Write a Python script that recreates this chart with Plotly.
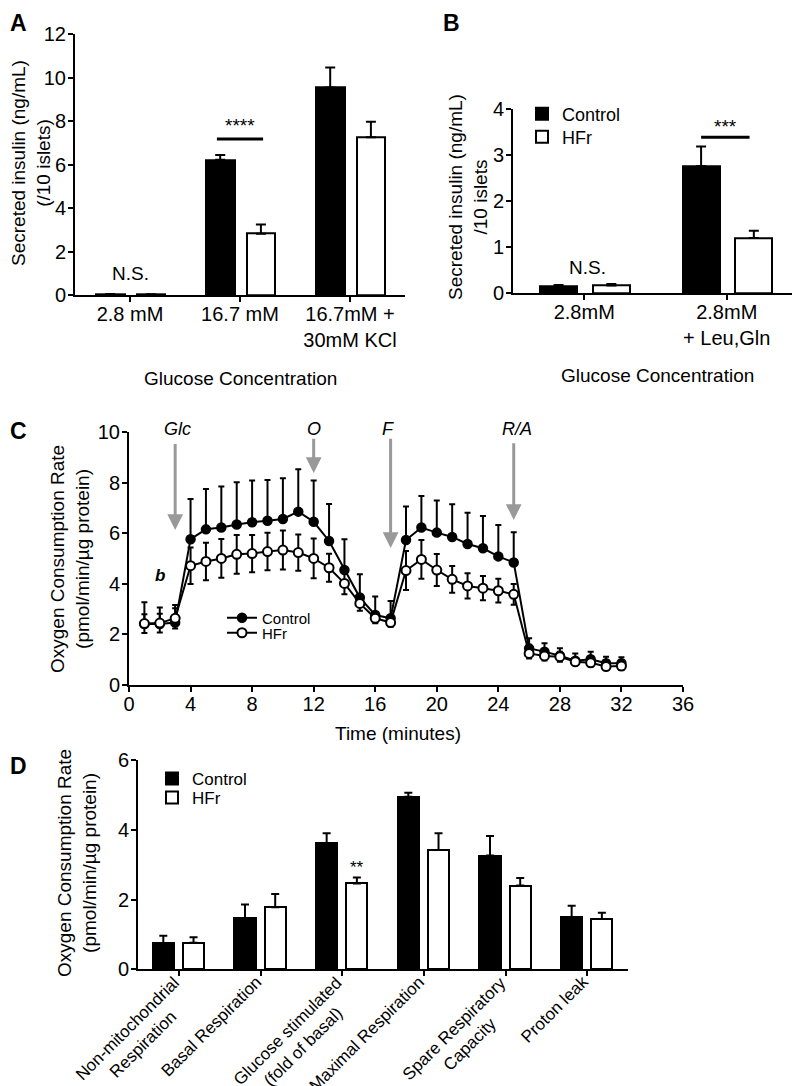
import plotly.graph_objects as go

FONT = "Liberation Sans, Arial, sans-serif"

# ---------------- Panel A ----------------
a_cats = ["2.8 mM", "16.7 mM", "16.7mM +<br>30mM KCl"]
a_ctrl = [0.05, 6.22, 9.55]
a_ctrl_err = [0.0, 0.22, 0.92]
a_hfr = [0.03, 2.82, 7.26]
a_hfr_err = [0.0, 0.43, 0.72]

# ---------------- Panel B ----------------
b_cats = ["2.8mM", "2.8mM<br>+ Leu,Gln"]
b_ctrl = [0.15, 2.77]
b_ctrl_err = [0.03, 0.42]
b_hfr = [0.17, 1.20]
b_hfr_err = [0.03, 0.16]

# ---------------- Panel C ----------------
c_time = list(range(1, 33))
c_ctrl = [2.41, 2.41, 2.47, 5.77, 6.16, 6.23, 6.35, 6.44, 6.50, 6.57, 6.86, 6.46,
          5.70, 4.55, 3.46, 2.77, 2.64, 5.74, 6.23, 6.03, 5.86, 5.58, 5.41, 5.09,
          4.85, 1.45, 1.32, 1.16, 0.96, 1.02, 0.86, 0.86]
c_ctrl_err = [0.86, 0.66, 0.70, 1.59, 1.60, 1.63, 1.67, 1.65, 1.61, 1.61, 1.68, 1.63,
              1.46, 1.22, 0.92, 0.73, 0.68, 1.32, 1.25, 1.27, 1.29, 1.24, 1.28, 1.24,
              1.19, 0.40, 0.33, 0.29, 0.29, 0.30, 0.26, 0.24]
c_hfr = [2.43, 2.45, 2.64, 4.72, 4.89, 5.01, 5.17, 5.20, 5.28, 5.34, 5.24, 5.01,
         4.64, 4.02, 3.23, 2.64, 2.47, 4.53, 4.97, 4.55, 4.18, 3.92, 3.83, 3.73,
         3.59, 1.25, 1.15, 1.12, 0.92, 0.88, 0.73, 0.75]
c_hfr_err = [0.37, 0.37, 0.40, 0.72, 0.74, 0.77, 0.77, 0.74, 0.74, 0.77, 0.72, 0.79,
             0.55, 0.43, 0.29, 0.20, 0.16, 0.77, 0.77, 0.63, 0.53, 0.50, 0.48, 0.47,
             0.41, 0.20, 0.18, 0.20, 0.13, 0.15, 0.14, 0.16]
c_inject_labels = ["Glc", "O", "F", "R/A"]
c_inject_times = [3, 12, 17, 25]
c_label_x = [3.12, 12.0, 16.8, 25.2]
c_arrow_tip = [6.13, 8.39, 5.42, 6.53]
c_arrow_top = [9.6, 9.8, 9.8, 9.63]

# ---------------- Panel D ----------------
d_cats = ["Non-mitochondrial<br>Respiration", "Basal Respiration",
          "Glucose stimulated<br>(fold of basal)", "Maximal Respiration",
          "Spare Respiratory<br>Capacity", "Proton leak"]
d_ctrl = [0.75, 1.46, 3.61, 4.95, 3.26, 1.50]
d_ctrl_err = [0.21, 0.40, 0.29, 0.11, 0.56, 0.32]
d_hfr = [0.76, 1.78, 2.46, 3.42, 2.40, 1.44]
d_hfr_err = [0.16, 0.38, 0.17, 0.48, 0.22, 0.18]

# page body has an 8px margin: figure is drawn 8px in from the top-left corner
OFF = 8
FW, FH = 800 - OFF, 1086 - OFF


def px_x(p):
    return (p - OFF) / FW


def px_y(p):
    return 1 - (p - OFF) / FH


fig = go.Figure()


def bar_pair(xa, ya, cats, ctrl, ctrl_err, hfr, hfr_err, width, off_c, off_h,
             legends=(None, None), show=False, cap=5):
    xs = list(range(len(cats)))
    fig.add_trace(go.Bar(
        x=xs, y=ctrl, name="Control", xaxis=xa, yaxis=ya, width=width, offset=off_c,
        marker=dict(color="black", line=dict(color="black", width=2)),
        error_y=dict(type="data", symmetric=False, array=ctrl_err,
                     arrayminus=[0] * len(ctrl), color="black", thickness=2, width=cap),
        showlegend=show, legend=legends[0]))
    fig.add_trace(go.Bar(
        x=xs, y=hfr, name="HFr", xaxis=xa, yaxis=ya, width=width, offset=off_h,
        marker=dict(color="white", line=dict(color="black", width=2)),
        error_y=dict(type="data", symmetric=False, array=hfr_err,
                     arrayminus=[0] * len(hfr), color="black", thickness=2, width=cap),
        showlegend=show, legend=legends[1]))


bar_pair("x", "y", a_cats, a_ctrl, a_ctrl_err, a_hfr, a_hfr_err, 0.26, -0.31, 0.06)
bar_pair("x2", "y2", b_cats, b_ctrl, b_ctrl_err, b_hfr, b_hfr_err, 0.26, -0.31, 0.06,
         legends=("legend", "legend2"), show=True)
bar_pair("x4", "y4", d_cats, d_ctrl, d_ctrl_err, d_hfr, d_hfr_err, 0.26, -0.32, 0.05,
         legends=("legend5", "legend6"), show=True, cap=4)

# Panel C lines
fig.add_trace(go.Scatter(
    x=c_time, y=c_ctrl, name="Control", xaxis="x3", yaxis="y3", mode="lines+markers",
    line=dict(color="black", width=2),
    marker=dict(symbol="circle", size=9, color="black", line=dict(color="black", width=1.5)),
    error_y=dict(type="data", symmetric=False, array=c_ctrl_err,
                 arrayminus=[0] * len(c_ctrl), color="black", thickness=2, width=3),
    legend="legend3"))
fig.add_trace(go.Scatter(
    x=c_time, y=c_hfr, name="HFr", xaxis="x3", yaxis="y3", mode="lines+markers",
    line=dict(color="black", width=2),
    marker=dict(symbol="circle", size=9, color="white", line=dict(color="black", width=2)),
    error_y=dict(type="data", array=c_hfr_err, color="black", thickness=2, width=3),
    legend="legend4"))

axis_common = dict(showline=True, linecolor="black", linewidth=2, ticks="outside",
                   ticklen=5, tickwidth=2, tickcolor="black", showgrid=False,
                   zeroline=False, automargin=False,
                   tickfont=dict(size=20, color="black", family=FONT))
xcommon = dict(axis_common, ticklabelstandoff=-5)
ycommon = dict(axis_common, ticklabelstandoff=-2)


def leg(x, y, size):
    return dict(x=px_x(x), y=px_y(y), xanchor="left", yanchor="middle",
                bgcolor="rgba(0,0,0,0)", font=dict(size=size, family=FONT, color="black"),
                tracegroupgap=0)


layout = dict(
    template="none",
    width=FW, height=FH, margin=dict(l=0, r=0, t=0, b=0, pad=0, autoexpand=False),
    paper_bgcolor="white", plot_bgcolor="white",
    font=dict(family=FONT, color="black", size=19),
    xaxis=dict(domain=[px_x(75), px_x(405)], range=[-0.5, 2.5], anchor="y",
               tickvals=list(range(len(a_cats))), ticktext=a_cats, **xcommon),
    yaxis=dict(domain=[px_y(295), px_y(34.3)], range=[0, 12], dtick=2, anchor="x",
               **ycommon),
    xaxis2=dict(domain=[px_x(513), px_x(798)], range=[-0.5, 1.5], anchor="y2",
                tickvals=list(range(len(b_cats))), ticktext=b_cats, **xcommon),
    yaxis2=dict(domain=[px_y(293.3), px_y(109.3)], range=[0, 4], dtick=1, anchor="x2",
                **ycommon),
    xaxis3=dict(domain=[px_x(129), px_x(683)], range=[0, 36], dtick=4, anchor="y3",
                **xcommon),
    yaxis3=dict(domain=[px_y(685), px_y(432.3)], range=[0, 10], dtick=2, anchor="x3",
                **ycommon),
    xaxis4=dict(domain=[px_x(138), px_x(628)], range=[-0.5, 5.5], anchor="y4",
                tickvals=list(range(len(d_cats))), showticklabels=False, **xcommon),
    yaxis4=dict(domain=[px_y(969.3), px_y(760)], range=[0, 6], dtick=2, anchor="x4",
                **ycommon),
    legend=leg(522, 114, 18),
    legend2=leg(522, 137, 18),
    legend3=leg(222, 618, 15),
    legend4=leg(222, 633, 15),
    legend5=leg(152, 779, 17),
    legend6=leg(152, 798, 17),
    bargap=0, barmode="overlay",
)
fig.update_layout(**layout)

ann = []
shapes = []


def paper_text(text, x, y, size=19, angle=0, bold=False, xanchor="center",
               yanchor="middle", ypaper=None):
    if bold:
        text = "<b>" + text + "</b>"
    ann.append(dict(text=text, x=max(px_x(x), 0), y=px_y(y) if ypaper is None else ypaper,
                    xref="paper", yref="paper", showarrow=False, textangle=angle,
                    xanchor=xanchor, yanchor=yanchor,
                    font=dict(size=size, family=FONT, color="black")))


# panel letters
paper_text("A", 0, 0, size=23, bold=True, xanchor="left", yanchor="top", ypaper=1)
paper_text("B", 451, 0, size=23, bold=True, yanchor="top", ypaper=1)
paper_text("C", 0, 431, size=23, bold=True, xanchor="left")
paper_text("D", 0, 766, size=23, bold=True, xanchor="left")

# axis titles
paper_text("Secreted insulin (ng/mL)<br>(/10 islets)", 31, 163, angle=-90)
paper_text("Glucose Concentration", 241, 378)
paper_text("Secreted insulin (ng/mL)<br>/10 islets", 468, 197, angle=-90)
paper_text("Glucose Concentration", 657, 375)
paper_text("Oxygen Consumption Rate<br>(pmol/min/µg protein)", 70, 559, angle=-90)
paper_text("Time (minutes)", 398, 733)
paper_text("Oxygen Consumption Rate<br>(pmol/min/µg protein)", 77, 863, angle=-90)

# Panel D category labels: rotated, centred lines, top-right end at each tick
for i, lab in enumerate(d_cats):
    nlines = lab.count("<br>") + 1
    box_h = 22 if nlines == 1 else 43
    ann.append(dict(text=lab, x=i, y=px_y(970), xref="x4", yref="paper",
                    showarrow=False, textangle=-45, align="center",
                    xanchor="right", yanchor="top", xshift=-8 + 0.707 * box_h,
                    font=dict(size=17, family=FONT, color="black")))

# significance marks
ann.append(dict(text="N.S.", x=0, y=1.0, xref="x", yref="y", showarrow=False,
                font=dict(size=19, family=FONT, color="black")))
ann.append(dict(text="****", x=1, y=7.8, xref="x", yref="y", showarrow=False,
                font=dict(size=19, family=FONT, color="black")))
shapes.append(dict(type="line", x0=0.79, x1=1.21, y0=7.18, y1=7.18, xref="x", yref="y",
                   line=dict(color="black", width=3)))
ann.append(dict(text="N.S.", x=0.02, y=0.55, xref="x2", yref="y2", showarrow=False,
                font=dict(size=19, family=FONT, color="black")))
ann.append(dict(text="***", x=0.99, y=3.62, xref="x2", yref="y2", showarrow=False,
                font=dict(size=19, family=FONT, color="black")))
shapes.append(dict(type="line", x0=0.82, x1=1.16, y0=3.39, y1=3.39, xref="x2", yref="y2",
                   line=dict(color="black", width=3)))
ann.append(dict(text="**", x=2 + 0.05 + 0.13, y=2.93, xref="x4", yref="y4",
                showarrow=False, font=dict(size=17, family=FONT, color="black")))

# Panel C arrows and labels
for lab, t, lx, tip, top in zip(c_inject_labels, c_inject_times, c_label_x,
                                c_arrow_tip, c_arrow_top):
    ann.append(dict(text="", x=t, y=tip, ax=t, ay=top, xref="x3", yref="y3",
                    axref="x3", ayref="y3", showarrow=True, arrowhead=2, arrowsize=1.05,
                    arrowwidth=3, arrowcolor="#999999"))
    ann.append(dict(text="<i>" + lab + "</i>", x=lx, y=px_y(429), xref="x3", yref="paper",
                    showarrow=False, yanchor="middle",
                    font=dict(size=18, family=FONT, color="black")))
ann.append(dict(text="<b><i>b</i></b>", x=2.0, y=4.35, xref="x3", yref="y3",
                showarrow=False, font=dict(size=17, family=FONT, color="black")))

fig.update_layout(annotations=ann, shapes=shapes)
fig.write_html("out.html")
